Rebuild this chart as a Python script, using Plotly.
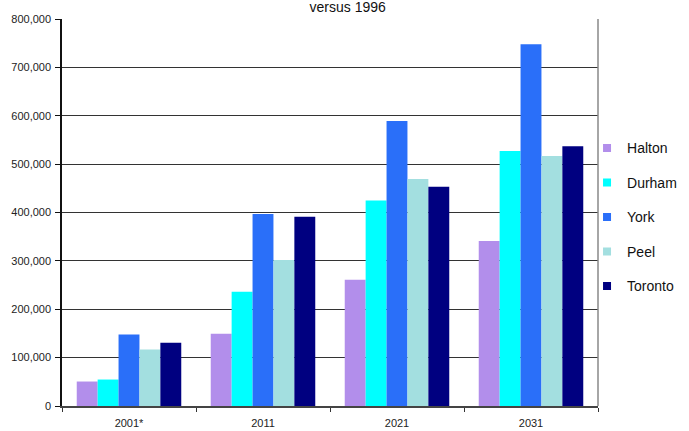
import plotly.graph_objects as go

categories = ["2001*", "2011", "2021", "2031"]
series_names = ["Halton", "Durham", "York", "Peel", "Toronto"]
halton = [50600, 149600, 261000, 341000]
durham = [54700, 236000, 425000, 527000]
york = [147600, 397000, 589000, 748000]
peel = [116600, 302000, 469000, 517000]
toronto = [131000, 391000, 453000, 537000]
values = [halton, durham, york, peel, toronto]
colors = ["#B28EEB", "#00FFFF", "#2A6FF9", "#A3DFE0", "#000080"]
y_ticks = [0, 100000, 200000, 300000, 400000, 500000, 600000, 700000, 800000]

fig = go.Figure()
for name, vals, col in zip(series_names, values, colors):
    fig.add_trace(go.Bar(x=categories, y=vals, name=name, marker_color=col,
                         marker_line_width=0, showlegend=False))
for i, (name, col) in enumerate(zip(series_names, colors)):
    fig.add_trace(go.Scatter(x=[None], y=[None], mode="markers", name=name,
                             marker=dict(symbol="square", size=8, color=col),
                             legendgroup=f"g{i}", showlegend=True))

font_family = "Liberation Sans, Arial, sans-serif"
fig.update_layout(
    width=689, height=431,
    margin=dict(l=62, r=91, t=19, b=25, autoexpand=False),
    paper_bgcolor="white", plot_bgcolor="white",
    barmode="group", bargap=0.22, bargroupgap=0,
    font=dict(family=font_family, size=11, color="#222"),
    title=dict(text="versus 1996", x=0.5046, xanchor="center", y=0.9835,
               yanchor="middle", yref="container", xref="container",
               font=dict(size=14, color="#111", family=font_family)),
    legend=dict(x=0.852, xanchor="left", y=0.693, yanchor="top",
                xref="container", yref="container",
                font=dict(size=14, color="#111", family=font_family),
                tracegroupgap=13.3, traceorder="grouped",
                bgcolor="rgba(0,0,0,0)", itemwidth=30),
    xaxis=dict(type="category", showgrid=False, showline=True,
               linecolor="#444", linewidth=1.5, ticks="outside",
               tickson="boundaries", ticklen=4, tickcolor="#333",
               ticklabelstandoff=6,
               tickfont=dict(size=11, color="#222"), fixedrange=True),
    yaxis=dict(range=[0, 800000], tickvals=y_ticks, tickformat=",d",
               showgrid=True, gridcolor="#333", gridwidth=1,
               showline=True, linecolor="#111", linewidth=1.5,
               ticks="outside", ticklen=5, tickcolor="#111",
               ticklabelstandoff=2,
               tickfont=dict(size=11, color="#222"), zeroline=False,
               fixedrange=True),
    shapes=[dict(type="line", xref="paper", yref="paper", x0=1, x1=1,
                 y0=0, y1=1, line=dict(color="#888", width=1.5))],
)

fig.write_html("out.html", config={"displayModeBar": False},
               post_script="document.body.style.margin='0px';")
